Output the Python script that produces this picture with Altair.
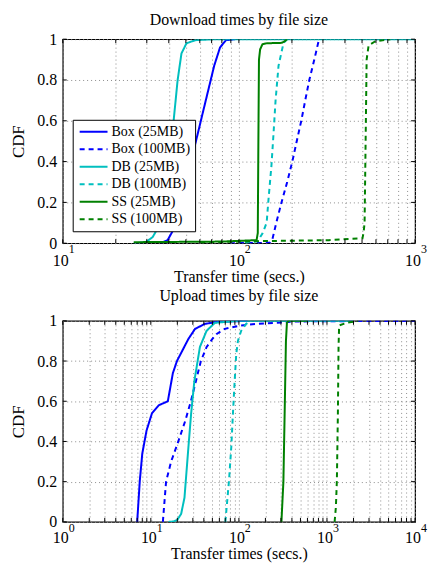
import altair as alt
import pandas as pd

FONT = "Liberation Serif"

series_names = ["Box (25MB)", "Box (100MB)", "DB (25MB)", "DB (100MB)", "SS (25MB)", "SS (100MB)"]
series_colors = ["#0000FF", "#0000FF", "#00BFBF", "#00BFBF", "#008000", "#008000"]
series_dash = [[1, 0], [5, 4], [1, 0], [5, 4], [1, 0], [5, 4]]

# ---------------- Download times (top panel) ----------------
dl_box25_t = [35.9, 39.4, 42.1, 45.4, 48.4, 51.7, 55.2, 58.9, 62.8, 67.0, 72.4, 78.2, 84.5, 95.0]
dl_box25_c = [0.0, 0.015, 0.06, 0.15, 0.25, 0.35, 0.45, 0.55, 0.65, 0.75, 0.87, 0.96, 0.995, 1.0]
dl_box100_t = [89, 150, 155, 163, 174.5, 188, 201, 213, 226, 238, 251, 268, 285]
dl_box100_c = [0.0, 0.002, 0.02, 0.1, 0.2, 0.3, 0.4, 0.5, 0.6, 0.7, 0.8, 0.9, 1.0]
dl_db25_t = [25.3, 29.6, 32.4, 36.0, 38.4, 40.9, 42.6, 44.9, 47.2, 50.4, 56.6, 73.3, 1000]
dl_db25_c = [0.0, 0.005, 0.03, 0.1, 0.25, 0.45, 0.6, 0.8, 0.93, 0.98, 0.995, 1.0, 1.0]
dl_db100_t = [108, 128, 136.5, 143.7, 147.4, 153, 157.3, 161.5, 167.9, 179, 188]
dl_db100_c = [0.0, 0.01, 0.05, 0.1, 0.22, 0.38, 0.54, 0.70, 0.87, 0.98, 1.0]
dl_ss25_t = [25.3, 80, 126, 128, 129, 130, 132, 136, 144, 175, 182, 188]
dl_ss25_c = [0.005, 0.008, 0.015, 0.05, 0.5, 0.9, 0.95, 0.975, 0.98, 0.982, 0.99, 1.0]
dl_ss100_t = [60.4, 71.4, 131, 324, 503, 510, 517, 524, 531, 545, 596, 724]
dl_ss100_c = [0.0, 0.005, 0.01, 0.015, 0.025, 0.05, 0.1, 0.5, 0.9, 0.97, 0.99, 1.0]

# ---------------- Upload times (bottom panel) ----------------
ul_box25_t = [7.0, 7.5, 8.0, 8.95, 10.3, 12.3, 15.6, 17.8, 19.8, 26.7, 31.8, 41.2, 58.1, 126]
ul_box25_c = [0.0, 0.205, 0.34, 0.455, 0.54, 0.58, 0.60, 0.74, 0.80, 0.91, 0.96, 0.985, 0.995, 1.0]
ul_box100_t = [13.7, 14.9, 17.0, 20.5, 24.5, 28.5, 32.5, 37, 43, 50, 56, 69, 105, 163, 252, 460, 10000]
ul_box100_c = [0.0, 0.2, 0.3, 0.4, 0.5, 0.6, 0.7, 0.8, 0.87, 0.91, 0.935, 0.96, 0.977, 0.985, 0.99, 0.997, 1.0]
ul_db25_t = [15.9, 18.1, 20.0, 22.1, 24.1, 26.7, 28.7, 31.2, 36.1, 42.9, 53.3, 97, 2000]
ul_db25_c = [0.0, 0.002, 0.01, 0.04, 0.12, 0.37, 0.54, 0.70, 0.87, 0.95, 0.99, 1.0, 1.0]
ul_db100_t = [70.2, 77.2, 81.9, 85.6, 89.5, 93.3, 97.5, 106, 121, 137]
ul_db100_c = [0.0, 0.205, 0.37, 0.54, 0.70, 0.835, 0.90, 0.95, 0.985, 1.0]
ul_ss25_t = [304, 320, 331, 342, 351, 364, 596]
ul_ss25_c = [0.0, 0.2, 0.55, 0.9, 0.99, 1.0, 1.0]
ul_ss100_t = [1221, 1262, 1295, 1330, 1353, 1374, 1678, 2270]
ul_ss100_c = [0.0, 0.073, 0.205, 0.54, 0.87, 0.977, 0.99, 1.0]

# axis tick values
dl_grid = [10, 20, 30, 40, 50, 60, 70, 80, 90, 100, 200, 300, 400, 500, 600, 700, 800, 900, 1000]
dl_decades = [10, 100, 1000]
dl_exps = ["1", "2", "3"]
ul_grid = [m * d for d in [1, 10, 100, 1000] for m in range(1, 10)] + [10000]
ul_decades = [1, 10, 100, 1000, 10000]
ul_exps = ["0", "1", "2", "3", "4"]
y_ticks = [0, 0.2, 0.4, 0.6, 0.8, 1.0]

W = 354


def make_df(pairs):
    rows = []
    for name, ts, cs in pairs:
        for i, (t, c) in enumerate(zip(ts, cs)):
            rows.append({"series": name, "t": t, "cdf": c, "order": i})
    return pd.DataFrame(rows)


dl_df = make_df([
    (series_names[0], dl_box25_t, dl_box25_c),
    (series_names[1], dl_box100_t, dl_box100_c),
    (series_names[2], dl_db25_t, dl_db25_c),
    (series_names[3], dl_db100_t, dl_db100_c),
    (series_names[4], dl_ss25_t, dl_ss25_c),
    (series_names[5], dl_ss100_t, dl_ss100_c),
])
ul_df = make_df([
    (series_names[0], ul_box25_t, ul_box25_c),
    (series_names[1], ul_box100_t, ul_box100_c),
    (series_names[2], ul_db25_t, ul_db25_c),
    (series_names[3], ul_db100_t, ul_db100_c),
    (series_names[4], ul_ss25_t, ul_ss25_c),
    (series_names[5], ul_ss100_t, ul_ss100_c),
])

LABEL_EXPR = "abs(log(datum.value)/LN10 - round(log(datum.value)/LN10)) < 0.001 ? '10' : ''"


def panel(df, title, xtitle, domain, grid_vals, decades, exps, H, show_legend,
          title_offset, label_pad):
    xscale = alt.Scale(type="log", domain=domain, nice=False)
    yscale = alt.Scale(domain=[0, 1], nice=False)
    x_axis = alt.Axis(
        values=grid_vals, labelExpr=LABEL_EXPR, title=xtitle, grid=True,
        gridDash=[1, 3], gridColor="#8c8c8c", ticks=False, domain=False,
        labelFont=FONT, labelFontSize=16, labelPadding=label_pad, labelFlush=False,
        labelOverlap=False, labelOffset=-2.5, labelColor="black",
        titleFont=FONT, titleFontSize=16, titleFontWeight="normal",
        titlePadding=0, titleColor="black",
    )
    y_axis = alt.Axis(
        values=y_ticks, format="~g", title="CDF", grid=True, gridDash=[1, 3],
        gridColor="#8c8c8c", ticks=False, domain=False, labelFont=FONT,
        labelFontSize=16, labelPadding=6, labelColor="black", titleFont=FONT,
        titleFontSize=17, titleFontWeight="normal", titlePadding=9,
        titleColor="black",
    )
    x_enc = alt.X("t:Q", scale=xscale, axis=x_axis)
    y_enc = alt.Y("cdf:Q", scale=yscale, axis=y_axis)
    if show_legend:
        leg = alt.Legend(
            title=None, orient="none", legendX=10, legendY=81,
            symbolType="M-2.8,0H2.8", symbolSize=100, symbolStrokeWidth=2,
            labelFont=FONT, labelFontSize=14, labelColor="black",
            strokeColor="black", fillColor="white", padding=5, rowPadding=3.6,
            symbolOffset=9, labelOffset=11,
        )
    else:
        leg = None
    color = alt.Color("series:N", scale=alt.Scale(domain=series_names, range=series_colors), legend=leg)
    dash = alt.StrokeDash("series:N", scale=alt.Scale(domain=series_names, range=series_dash), legend=leg)

    lines = alt.Chart(df).mark_line(strokeWidth=2, clip=True).encode(
        x=x_enc, y=y_enc, color=color, strokeDash=dash, order="order:Q",
    )
    exp_df = pd.DataFrame({"t": decades, "e": exps})
    exp_layer = alt.Chart(exp_df).mark_text(
        font=FONT, fontSize=12, align="left", baseline="top", dx=6, color="black"
    ).encode(x=x_enc, y=alt.value(H + 1), text="e:N")

    tick_df = pd.DataFrame({"t": grid_vals})
    tb = alt.Chart(tick_df).mark_rule(color="black", strokeWidth=1).encode(
        x=x_enc, y=alt.value(H), y2=alt.value(H - 4))
    tt = alt.Chart(tick_df).mark_rule(color="black", strokeWidth=1).encode(
        x=x_enc, y=alt.value(0), y2=alt.value(4))
    ydf = pd.DataFrame({"cdf": y_ticks})
    yl = alt.Chart(ydf).mark_rule(color="black", strokeWidth=1).encode(
        y=y_enc, x=alt.value(0), x2=alt.value(4))
    yr = alt.Chart(ydf).mark_rule(color="black", strokeWidth=1).encode(
        y=y_enc, x=alt.value(W - 4), x2=alt.value(W))

    return alt.layer(lines, tb, tt, yl, yr, exp_layer).properties(
        width=W, height=H,
        title=alt.TitleParams(title, font=FONT, fontSize=16, fontWeight="normal",
                              color="black", offset=title_offset, anchor="middle"),
    )


top = panel(dl_df, "Download times by file size", "Transfer time (secs.)",
            [10, 1000], dl_grid, dl_decades, dl_exps, 205, True, 3, 9)
bottom = panel(ul_df, "Upload times by file size", "Transfer times (secs.)",
               [1, 10000], ul_grid, ul_decades, ul_exps, 202, False, 9, 8)

chart = alt.vconcat(top, bottom, spacing=2).resolve_scale(
    x="independent", y="independent", color="independent", strokeDash="independent"
).resolve_legend(color="independent", strokeDash="independent").properties(
    padding={"left": 1, "top": 2, "right": 0, "bottom": 0}
).configure_view(stroke="black", strokeWidth=1.2)

chart.save("out.html", embed_options={"renderer": "svg", "actions": False})
